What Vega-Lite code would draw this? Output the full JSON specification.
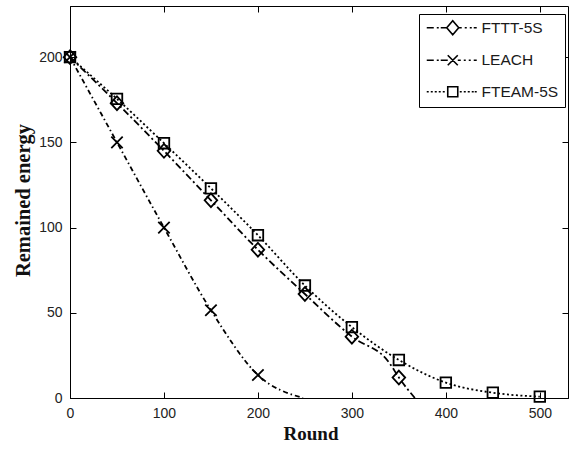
{
  "$schema": "https://vega.github.io/schema/vega-lite/v6.json",
  "width": 498,
  "height": 392,
  "autosize": {"type": "none"},
  "padding": {"left": 70, "top": 6, "right": 9, "bottom": 54},
  "background": "white",
  "config": {
    "view": {"stroke": "black", "strokeWidth": 1},
    "axis": {
      "grid": false,
      "domainColor": "black",
      "domainWidth": 1,
      "tickColor": "black",
      "tickWidth": 1,
      "tickSize": -6,
      "labelFont": "Liberation Sans",
      "labelFontSize": 14,
      "labelColor": "#222222",
      "labelFlush": false,
      "titleFont": "Liberation Serif",
      "titleFontWeight": "bold",
      "titleColor": "#111111"
    }
  },
  "data": {
    "values": [
      {"series": "FTTT-5S", "round": 0, "energy": 200},
      {"series": "FTTT-5S", "round": 50, "energy": 173},
      {"series": "FTTT-5S", "round": 100, "energy": 145},
      {"series": "FTTT-5S", "round": 150, "energy": 116},
      {"series": "FTTT-5S", "round": 200, "energy": 87},
      {"series": "FTTT-5S", "round": 250, "energy": 61},
      {"series": "FTTT-5S", "round": 300, "energy": 36},
      {"series": "FTTT-5S", "round": 340, "energy": 20.5},
      {"series": "FTTT-5S", "round": 350, "energy": 12},
      {"series": "FTTT-5S", "round": 367, "energy": 0},
      {"series": "LEACH", "round": 0, "energy": 200},
      {"series": "LEACH", "round": 50, "energy": 150},
      {"series": "LEACH", "round": 100, "energy": 100},
      {"series": "LEACH", "round": 150, "energy": 51.5},
      {"series": "LEACH", "round": 200, "energy": 13.5},
      {"series": "LEACH", "round": 248, "energy": 0},
      {"series": "FTEAM-5S", "round": 0, "energy": 200},
      {"series": "FTEAM-5S", "round": 50, "energy": 175.5},
      {"series": "FTEAM-5S", "round": 100, "energy": 149.5},
      {"series": "FTEAM-5S", "round": 150, "energy": 123},
      {"series": "FTEAM-5S", "round": 200, "energy": 95.5},
      {"series": "FTEAM-5S", "round": 250, "energy": 66},
      {"series": "FTEAM-5S", "round": 300, "energy": 41.6},
      {"series": "FTEAM-5S", "round": 350, "energy": 22.3},
      {"series": "FTEAM-5S", "round": 400, "energy": 9},
      {"series": "FTEAM-5S", "round": 450, "energy": 3.1},
      {"series": "FTEAM-5S", "round": 500, "energy": 0.8}
    ]
  },
  "layer": [
    {
      "transform": [{"filter": "datum.series == 'FTTT-5S'"}],
      "mark": {"type": "line", "interpolate": "monotone", "strokeWidth": 1.8, "color": "black", "strokeDash": [7, 3, 2, 3]},
      "encoding": {
        "x": {
          "field": "round", "type": "quantitative",
          "scale": {"domain": [0, 530], "nice": false, "zero": false},
          "axis": {
            "orient": "bottom",
            "values": [0, 100, 200, 300, 400, 500],
            "labelPadding": 14,
            "title": "Round",
            "titleFontSize": 19,
            "titleX": 240.5, "titleY": 41, "titleBaseline": "alphabetic"
          }
        },
        "y": {
          "field": "energy", "type": "quantitative",
          "scale": {"domain": [0, 230], "nice": false},
          "axis": {
            "orient": "left",
            "values": [0, 50, 100, 150, 200],
            "labelPadding": 14,
            "title": "Remained energy",
            "titleFontSize": 20.5,
            "titleX": -41, "titleY": 194, "titleBaseline": "alphabetic", "titleAngle": 270
          }
        }
      }
    },
    {
      "transform": [{"filter": "datum.series == 'LEACH'"}],
      "mark": {"type": "line", "interpolate": "monotone", "strokeWidth": 1.8, "color": "black", "strokeDash": [5, 3, 1.5, 3]},
      "encoding": {
        "x": {"field": "round", "type": "quantitative", "axis": null},
        "y": {"field": "energy", "type": "quantitative", "axis": null}
      }
    },
    {
      "transform": [{"filter": "datum.series == 'FTEAM-5S'"}],
      "mark": {"type": "line", "interpolate": "monotone", "strokeWidth": 1.8, "color": "black", "strokeDash": [2, 2.5]},
      "encoding": {
        "x": {"field": "round", "type": "quantitative", "axis": null},
        "y": {"field": "energy", "type": "quantitative", "axis": null}
      }
    },
    {
      "transform": [{"filter": "datum.round % 50 == 0 && datum.series == 'FTTT-5S'"}],
      "mark": {"type": "point", "filled": false, "strokeWidth": 1.8, "color": "black", "opacity": 1, "size": 144, "shape": "M0,-1.15L1.05,0L0,1.15L-1.05,0Z"},
      "encoding": {
        "x": {"field": "round", "type": "quantitative", "axis": null},
        "y": {"field": "energy", "type": "quantitative", "axis": null}
      }
    },
    {
      "transform": [{"filter": "datum.round % 50 == 0 && datum.series == 'LEACH'"}],
      "mark": {"type": "point", "filled": false, "strokeWidth": 1.8, "color": "black", "opacity": 1, "size": 144, "shape": "M-0.95,-0.95L0.95,0.95M-0.95,0.95L0.95,-0.95"},
      "encoding": {
        "x": {"field": "round", "type": "quantitative", "axis": null},
        "y": {"field": "energy", "type": "quantitative", "axis": null}
      }
    },
    {
      "transform": [{"filter": "datum.round % 50 == 0 && datum.series == 'FTEAM-5S'"}],
      "mark": {"type": "point", "filled": false, "strokeWidth": 1.8, "color": "black", "opacity": 1, "size": 144, "shape": "M-0.88,-0.88H0.88V0.88H-0.88Z"},
      "encoding": {
        "x": {"field": "round", "type": "quantitative", "axis": null},
        "y": {"field": "energy", "type": "quantitative", "axis": null}
      }
    },
    {
      "transform": [{"filter": "datum.round == 0"}],
      "mark": {"type": "point", "filled": false, "opacity": 0, "size": 144},
      "encoding": {
        "x": {
          "field": "round", "type": "quantitative",
          "axis": {"orient": "top", "values": [0, 100, 200, 300, 400, 500], "labels": false, "domain": false, "title": null}
        },
        "y": {
          "field": "energy", "type": "quantitative",
          "axis": {"orient": "right", "values": [0, 50, 100, 150, 200], "labels": false, "domain": false, "title": null}
        },
        "shape": {
          "field": "series", "type": "nominal",
          "scale": {
            "domain": ["FTTT-5S", "LEACH", "FTEAM-5S"],
            "range": [
              "M-1,0H0.17M0.67,0H1M1.33,0H2.33M2.33,0L3.33,-1.17L4.33,0L3.33,1.17ZM4.33,0H4.83M5.33,0H5.67M6.17,0H6.5M6.83,0H7.33",
              "M-1,0H0.17M0.67,0H1M1.33,0H2.5M2.5,-0.83L4.17,0.83M2.5,0.83L4.17,-0.83M4.17,0H4.67M5.17,0H5.5M6,0H6.33M6.83,0H7.33",
              "M-1,0H-0.67M-0.33,0H0M0.33,0H0.67M1,0H1.33M1.67,0H2M2.5,-0.83H4.17V0.83H2.5ZM4.5,0H4.83M5.17,0H5.5M5.83,0H6.17M6.5,0H6.83M7,0H7.33"
            ]
          },
          "legend": {
            "orient": "none",
            "legendX": 349,
            "legendY": 8,
            "title": null,
            "padding": 6,
            "strokeColor": "black",
            "fillColor": "white",
            "labelFont": "Liberation Sans",
            "labelFontSize": 15.5,
            "labelColor": "#1a1a1a",
            "labelOffset": 41,
            "rowPadding": 13.5,
            "symbolSize": 144,
            "symbolOpacity": 1,
            "symbolStrokeWidth": 1.6,
            "symbolStrokeColor": "black",
            "symbolFillColor": "transparent"
          }
        }
      }
    }
  ],
  "resolve": {"axis": {"x": "independent", "y": "independent"}}
}
